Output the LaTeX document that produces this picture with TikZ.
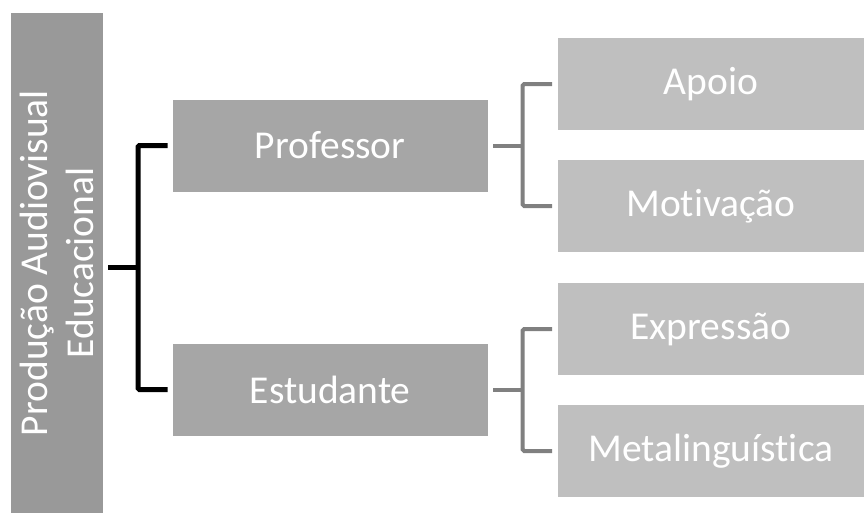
\documentclass[tikz,border=0pt]{standalone}
\usepackage{fontspec}
\setmainfont[Ligatures=NoCommon]{Carlito}
\usetikzlibrary{calc}
\definecolor{rootgray}{RGB}{153,153,153}
\definecolor{midgray}{RGB}{166,166,166}
\definecolor{leafgray}{RGB}{191,191,191}
\definecolor{linegray}{RGB}{128,128,128}
\tikzset{
  boxbase/.style={draw=none, text=white, inner sep=0pt, outer sep=0pt, anchor=center,
    font=\fontsize{39.5}{46}\selectfont},
  rootbox/.style={boxbase, fill=rootgray, minimum width=92pt, minimum height=500pt},
  midbox/.style={boxbase, fill=midgray, minimum width=315pt, minimum height=92pt},
  leafbox/.style={boxbase, fill=leafgray, minimum width=306.5pt, minimum height=91.5pt},
  blkline/.style={draw=black, line width=5pt, rounded corners=1.5pt},
  grayline/.style={draw=linegray, line width=4pt, rounded corners=1.5pt},
}
\begin{document}
\begin{tikzpicture}[x=1pt,y=-1pt]
\useasboundingbox (0,0) rectangle (864,515);
\node[rootbox] (root) at (57,263) {};
\node[boxbase, rotate=90, align=center] (roottext) at (root.center)
  {Produção Audiovisual\\Educacional};
\node[midbox] (prof) at (330.2,145.5) {Professor};
\node[midbox] (est) at (330.2,389.5) {Estudante};
\node[leafbox] (apoio) at (710.95,84) {Apoio};
\node[leafbox] (motiv) at (710.95,206) {Motivação};
\node[leafbox] (expr) at (710.95,329) {Expressão};
\node[leafbox] (meta) at (710.95,451) {Metalinguística};
% black bracket
\coordinate (bj) at (138,267.5);
\draw[blkline] ([xshift=-5]prof.west) -| (bj) |- ([xshift=-5]est.west);
\draw[blkline] ([xshift=5]root.east |- bj) -- (bj);
% gray brackets
\coordinate (pj) at (522.7,145.5);
\draw[grayline] ([xshift=-5.5]apoio.west) -| (pj) |- ([xshift=-5.5]motiv.west);
\draw[grayline] ([xshift=5.5]prof.east) -- (pj);
\coordinate (ej) at (522.7,389.5);
\draw[grayline] ([xshift=-5.5]expr.west) -| (ej) |- ([xshift=-5.5]meta.west);
\draw[grayline] ([xshift=5.5]est.east) -- (ej);
\end{tikzpicture}
\end{document}
